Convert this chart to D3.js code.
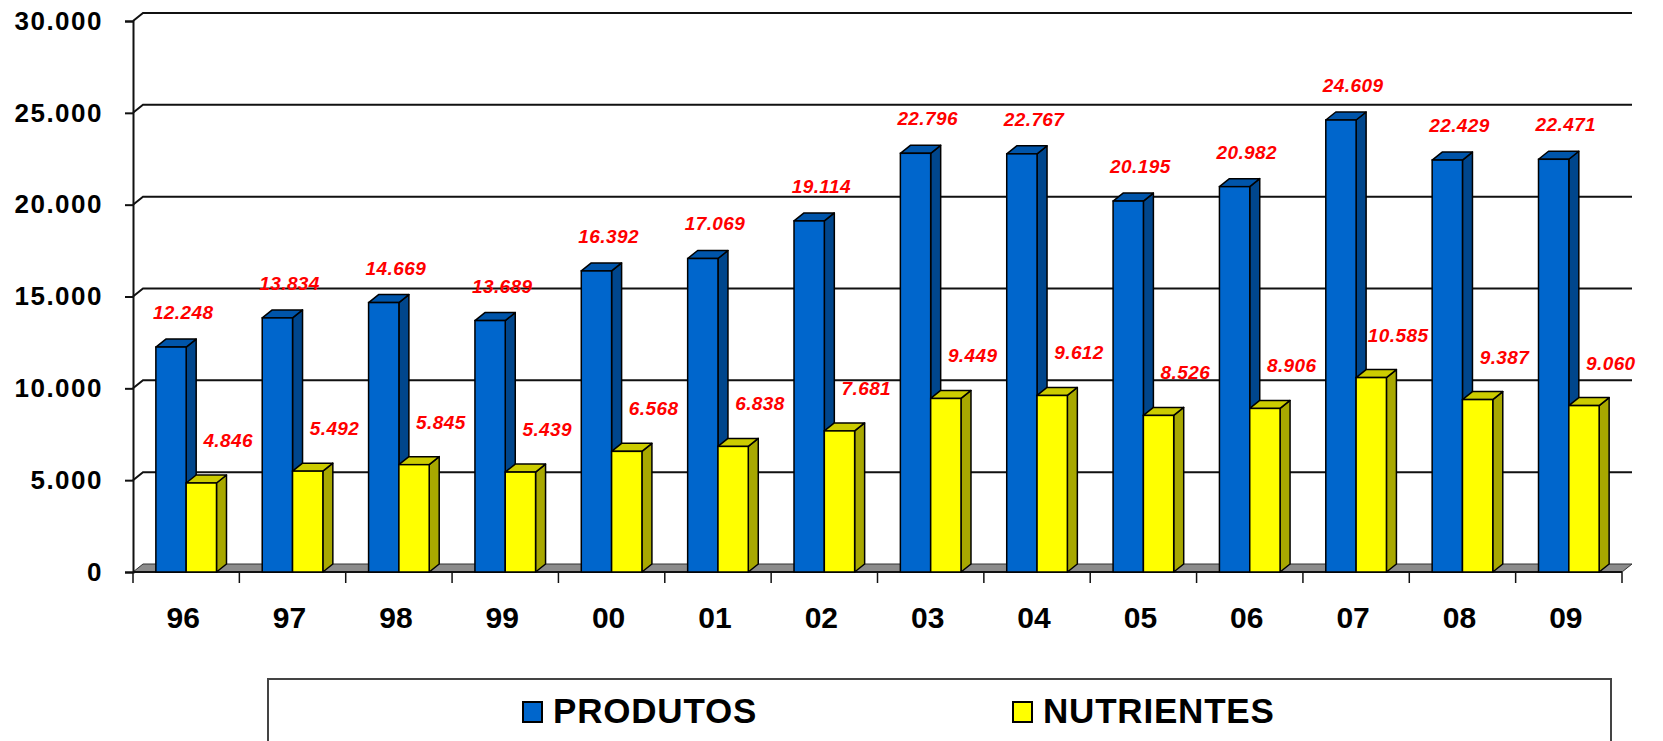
<!DOCTYPE html>
<html>
<head>
<meta charset="utf-8">
<script src="https://cdn.jsdelivr.net/npm/d3@7"></script>
<style>
  body { margin: 0; background: #fff; }
  svg { display: block; }
</style>
</head>
<body>
<script>
// data
var categories = ["96", "97", "98", "99", "00", "01", "02", "03", "04", "05", "06", "07", "08", "09"];
var produtos = [12248, 13834, 14669, 13689, 16392, 17069, 19114, 22796, 22767, 20195, 20982, 24609, 22429, 22471];
var nutrientes = [4846, 5492, 5845, 5439, 6568, 6838, 7681, 9449, 9612, 8526, 8906, 10585, 9387, 9060];
var seriesNames = ["PRODUTOS", "NUTRIENTES"];
var yTicks = [0, 5000, 10000, 15000, 20000, 25000, 30000];

var w = 1663;
var h = 741;
var dx = 10, dy = 8; // 3d depth

var svg = d3.select("body")
  .append("svg")
  .attr("width", w)
  .attr("height", h);

var ptBR = d3.formatLocale({decimal: ",", thousands: ".", grouping: [3], currency: ["", ""]});
var fmt = ptBR.format(",d");

var y = d3.scaleLinear().domain([0, 30000]).range([572, 21]);
var x = d3.scaleBand().domain(categories).range([133, 1622]);
var bw = x.bandwidth();
var x1 = d3.scaleBand().domain(seriesNames).range([bw * 0.215, bw * 0.785]);

var colors = {
  PRODUTOS: {front: "#0066cc", side: "#00468c", top: "#0055aa"},
  NUTRIENTES: {front: "#ffff00", side: "#a8a800", top: "#cccc00"}
};

//floor
var y0 = y(0);
svg.append("path")
  .attr("d", "M" + x.range()[0] + "," + y0 + " L" + (x.range()[0] + dx) + "," + (y0 - dy) +
    " L" + (x.range()[1] + dx) + "," + (y0 - dy) + " L" + x.range()[1] + "," + y0 + "Z")
  .attr("fill", "#8c8c8c")
  .attr("stroke", "#333")
  .attr("stroke-width", 1);

//gridlines on the back wall
yTicks.filter(function(d) { return d > 0; }).forEach(function(t) {
  svg.append("path")
    .attr("d", "M" + x.range()[0] + "," + y(t) + " L" + (x.range()[0] + dx) + "," + (y(t) - dy) +
      " L" + (x.range()[1] + dx) + "," + (y(t) - dy))
    .attr("fill", "none")
    .attr("stroke", "#111")
    .attr("stroke-width", 2);
});

//y axis
var yAxis = svg.append("g")
  .attr("transform", "translate(" + x.range()[0] + ",0)")
  .call(d3.axisLeft(y).tickValues(yTicks).tickFormat(fmt).tickSize(8).tickPadding(22));
yAxis.select(".domain").attr("stroke", "#111").attr("stroke-width", 2);
yAxis.selectAll(".tick line").attr("stroke", "#111").attr("stroke-width", 2);
yAxis.selectAll("text")
  .attr("font-family", "Liberation Sans, Arial, sans-serif")
  .attr("font-weight", "bold")
  .attr("font-size", 26)
  .attr("letter-spacing", 1.5)
  .attr("fill", "#000");

//x axis line + ticks
svg.append("line")
  .attr("x1", x.range()[0]).attr("x2", x.range()[1])
  .attr("y1", y0).attr("y2", y0)
  .attr("stroke", "#111").attr("stroke-width", 2);
var bounds = categories.map(function(c) { return x(c); }).concat([x.range()[1]]);
svg.selectAll(".xtick")
  .data(bounds)
  .enter().append("line")
  .attr("x1", function(d) { return d; })
  .attr("x2", function(d) { return d; })
  .attr("y1", y0)
  .attr("y2", y0 + 11)
  .attr("stroke", "#111")
  .attr("stroke-width", 1.5);
svg.selectAll(".xlabel")
  .data(categories)
  .enter().append("text")
  .attr("x", function(d) { return x(d) + bw / 2 - 3; })
  .attr("y", 628)
  .attr("text-anchor", "middle")
  .attr("font-family", "Liberation Sans, Arial, sans-serif")
  .attr("font-weight", "bold")
  .attr("font-size", 30)
  .text(function(d) { return d; });

//bars
var rows = categories.map(function(c, i) {
  return {cat: c, vals: [{s: "PRODUTOS", v: produtos[i]}, {s: "NUTRIENTES", v: nutrientes[i]}]};
});

var groups = svg.selectAll(".grp")
  .data(rows)
  .enter().append("g")
  .attr("transform", function(d) { return "translate(" + x(d.cat) + ",0)"; });

var bars = groups.selectAll(".bar")
  .data(function(d) { return d.vals; })
  .enter().append("g");

function pts(arr) { return arr.map(function(p) { return p.join(","); }).join(" "); }

bars.append("polygon") // side
  .attr("points", function(d) {
    var xr = x1(d.s) + x1.bandwidth(), yt = y(d.v);
    return pts([[xr, yt], [xr + dx, yt - dy], [xr + dx, y0 - dy], [xr, y0]]);
  })
  .attr("fill", function(d) { return colors[d.s].side; })
  .attr("stroke", "#000").attr("stroke-width", 1.5).attr("stroke-linejoin", "round");

bars.append("polygon") // top
  .attr("points", function(d) {
    var xl = x1(d.s), xr = xl + x1.bandwidth(), yt = y(d.v);
    return pts([[xl, yt], [xl + dx, yt - dy], [xr + dx, yt - dy], [xr, yt]]);
  })
  .attr("fill", function(d) { return colors[d.s].top; })
  .attr("stroke", "#000").attr("stroke-width", 1.5).attr("stroke-linejoin", "round");

bars.append("rect") // front
  .attr("x", function(d) { return x1(d.s); })
  .attr("y", function(d) { return y(d.v); })
  .attr("width", x1.bandwidth())
  .attr("height", function(d) { return y0 - y(d.v); })
  .attr("fill", function(d) { return colors[d.s].front; })
  .attr("stroke", "#000").attr("stroke-width", 1.5);

//value labels
groups.selectAll(".lbl")
  .data(function(d) { return d.vals; })
  .enter().append("text")
  .attr("x", function(d) { return d.s === "PRODUTOS" ? bw / 2 - 3 : bw / 2 + 42; })
  .attr("y", function(d) { return d.s === "PRODUTOS" ? y(d.v) - 28 : y(d.v) - 36; })
  .attr("text-anchor", "middle")
  .attr("font-family", "Liberation Sans, Arial, sans-serif")
  .attr("font-weight", "bold")
  .attr("font-style", "italic")
  .attr("font-size", 19)
  .attr("letter-spacing", 0.4)
  .attr("fill", "#ff0000")
  .text(function(d) { return fmt(d.v); });

//legend
svg.append("rect")
  .attr("x", 268).attr("y", 679)
  .attr("width", 1343).attr("height", 80)
  .attr("fill", "#fff")
  .attr("stroke", "#444")
  .attr("stroke-width", 2);

var legendX = [523, 1013];
var leg = svg.selectAll(".leg")
  .data(seriesNames)
  .enter().append("g")
  .attr("transform", function(d, i) { return "translate(" + legendX[i] + ",702)"; });
leg.append("rect")
  .attr("width", 19).attr("height", 20)
  .attr("fill", function(d) { return colors[d].front; })
  .attr("stroke", "#000").attr("stroke-width", 2);
leg.append("text")
  .attr("x", 30)
  .attr("y", 21)
  .attr("font-family", "Liberation Sans, Arial, sans-serif")
  .attr("font-weight", "bold")
  .attr("font-size", 35)
  .attr("letter-spacing", 0.8)
  .text(function(d) { return d; });
</script>
</body>
</html>
